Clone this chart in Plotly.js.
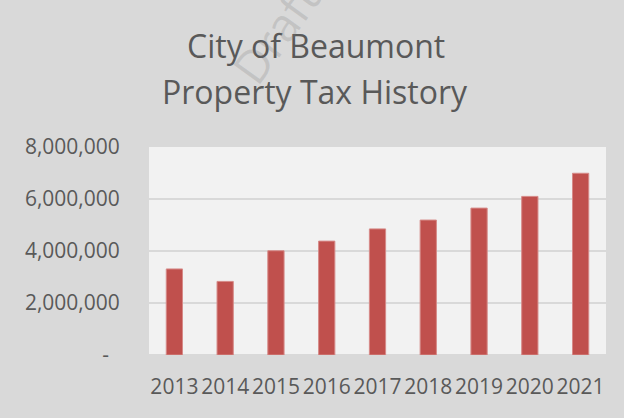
<!DOCTYPE html>
<html>
<head>
<meta charset="utf-8">
<script src="https://cdn.plot.ly/plotly-3.0.1.min.js"></script>
<style>html,body{margin:0;padding:0;background:#d9d9d9;}#chart{width:624px;height:418px;}</style>
</head>
<body>
<div id="chart"></div>
<script>
const years = ["2013","2014","2015","2016","2017","2018","2019","2020","2021"];
const taxValues = [3310000, 2830000, 4010000, 4380000, 4850000, 5190000, 5650000, 6100000, 6990000];
const yTickVals = [0, 2000000, 4000000, 6000000, 8000000];
const yTickText = ["-\u00a0\u00a0", "2,000,000", "4,000,000", "6,000,000", "8,000,000"];
const titleLines = ["City of Beaumont", "Property Tax History"];

const font = "'Open Sans', 'Liberation Sans', sans-serif";
const trace = {
  type: "bar",
  x: years,
  y: taxValues,
  marker: {color: "#c0504d", line: {color: "#d68a88", width: 1}},
  hoverinfo: "none"
};
const layout = {
  width: 624, height: 418,
  paper_bgcolor: "#d9d9d9",
  plot_bgcolor: "#f2f2f2",
  margin: {l: 149, r: 18, t: 147, b: 63},
  bargap: 0.68,
  showlegend: false,
  font: {family: font, color: "#595959", size: 21},
  xaxis: {
    type: "category",
    ticks: "outside", ticklen: 13, tickcolor: "rgba(0,0,0,0)",
    tickfont: {family: font, size: 21, color: "#595959"},
    showgrid: false, zeroline: false, showline: false, fixedrange: true
  },
  yaxis: {
    range: [0, 8000000],
    tickvals: yTickVals, ticktext: yTickText,
    ticks: "outside", ticklen: 24, tickcolor: "rgba(0,0,0,0)",
    tickfont: {family: font, size: 21, color: "#595959"},
    showgrid: true, gridcolor: "#d9d9d9", gridwidth: 1.5,
    zeroline: true, zerolinecolor: "#d9d9d9", zerolinewidth: 1.5,
    showline: false, fixedrange: true
  },
  annotations: [
    {text: titleLines[0], xref: "paper", yref: "paper", x: 0.366, y: 1.487, xanchor: "center", yanchor: "middle",
     showarrow: false, font: {family: font, size: 32, color: "#595959"}},
    {text: titleLines[1], xref: "paper", yref: "paper", x: 0.364, y: 1.265, xanchor: "center", yanchor: "middle",
     showarrow: false, font: {family: font, size: 32, color: "#595959"}},
    {text: "Draft", xref: "paper", yref: "paper", x: 0.275, y: 1.55, xanchor: "center", yanchor: "middle",
     textangle: -54, showarrow: false, font: {family: font, size: 46, color: "rgba(120,120,120,0.22)"}}
  ]
};
Plotly.newPlot("chart", [trace], layout, {displayModeBar: false, staticPlot: true});
</script>
</body>
</html>
